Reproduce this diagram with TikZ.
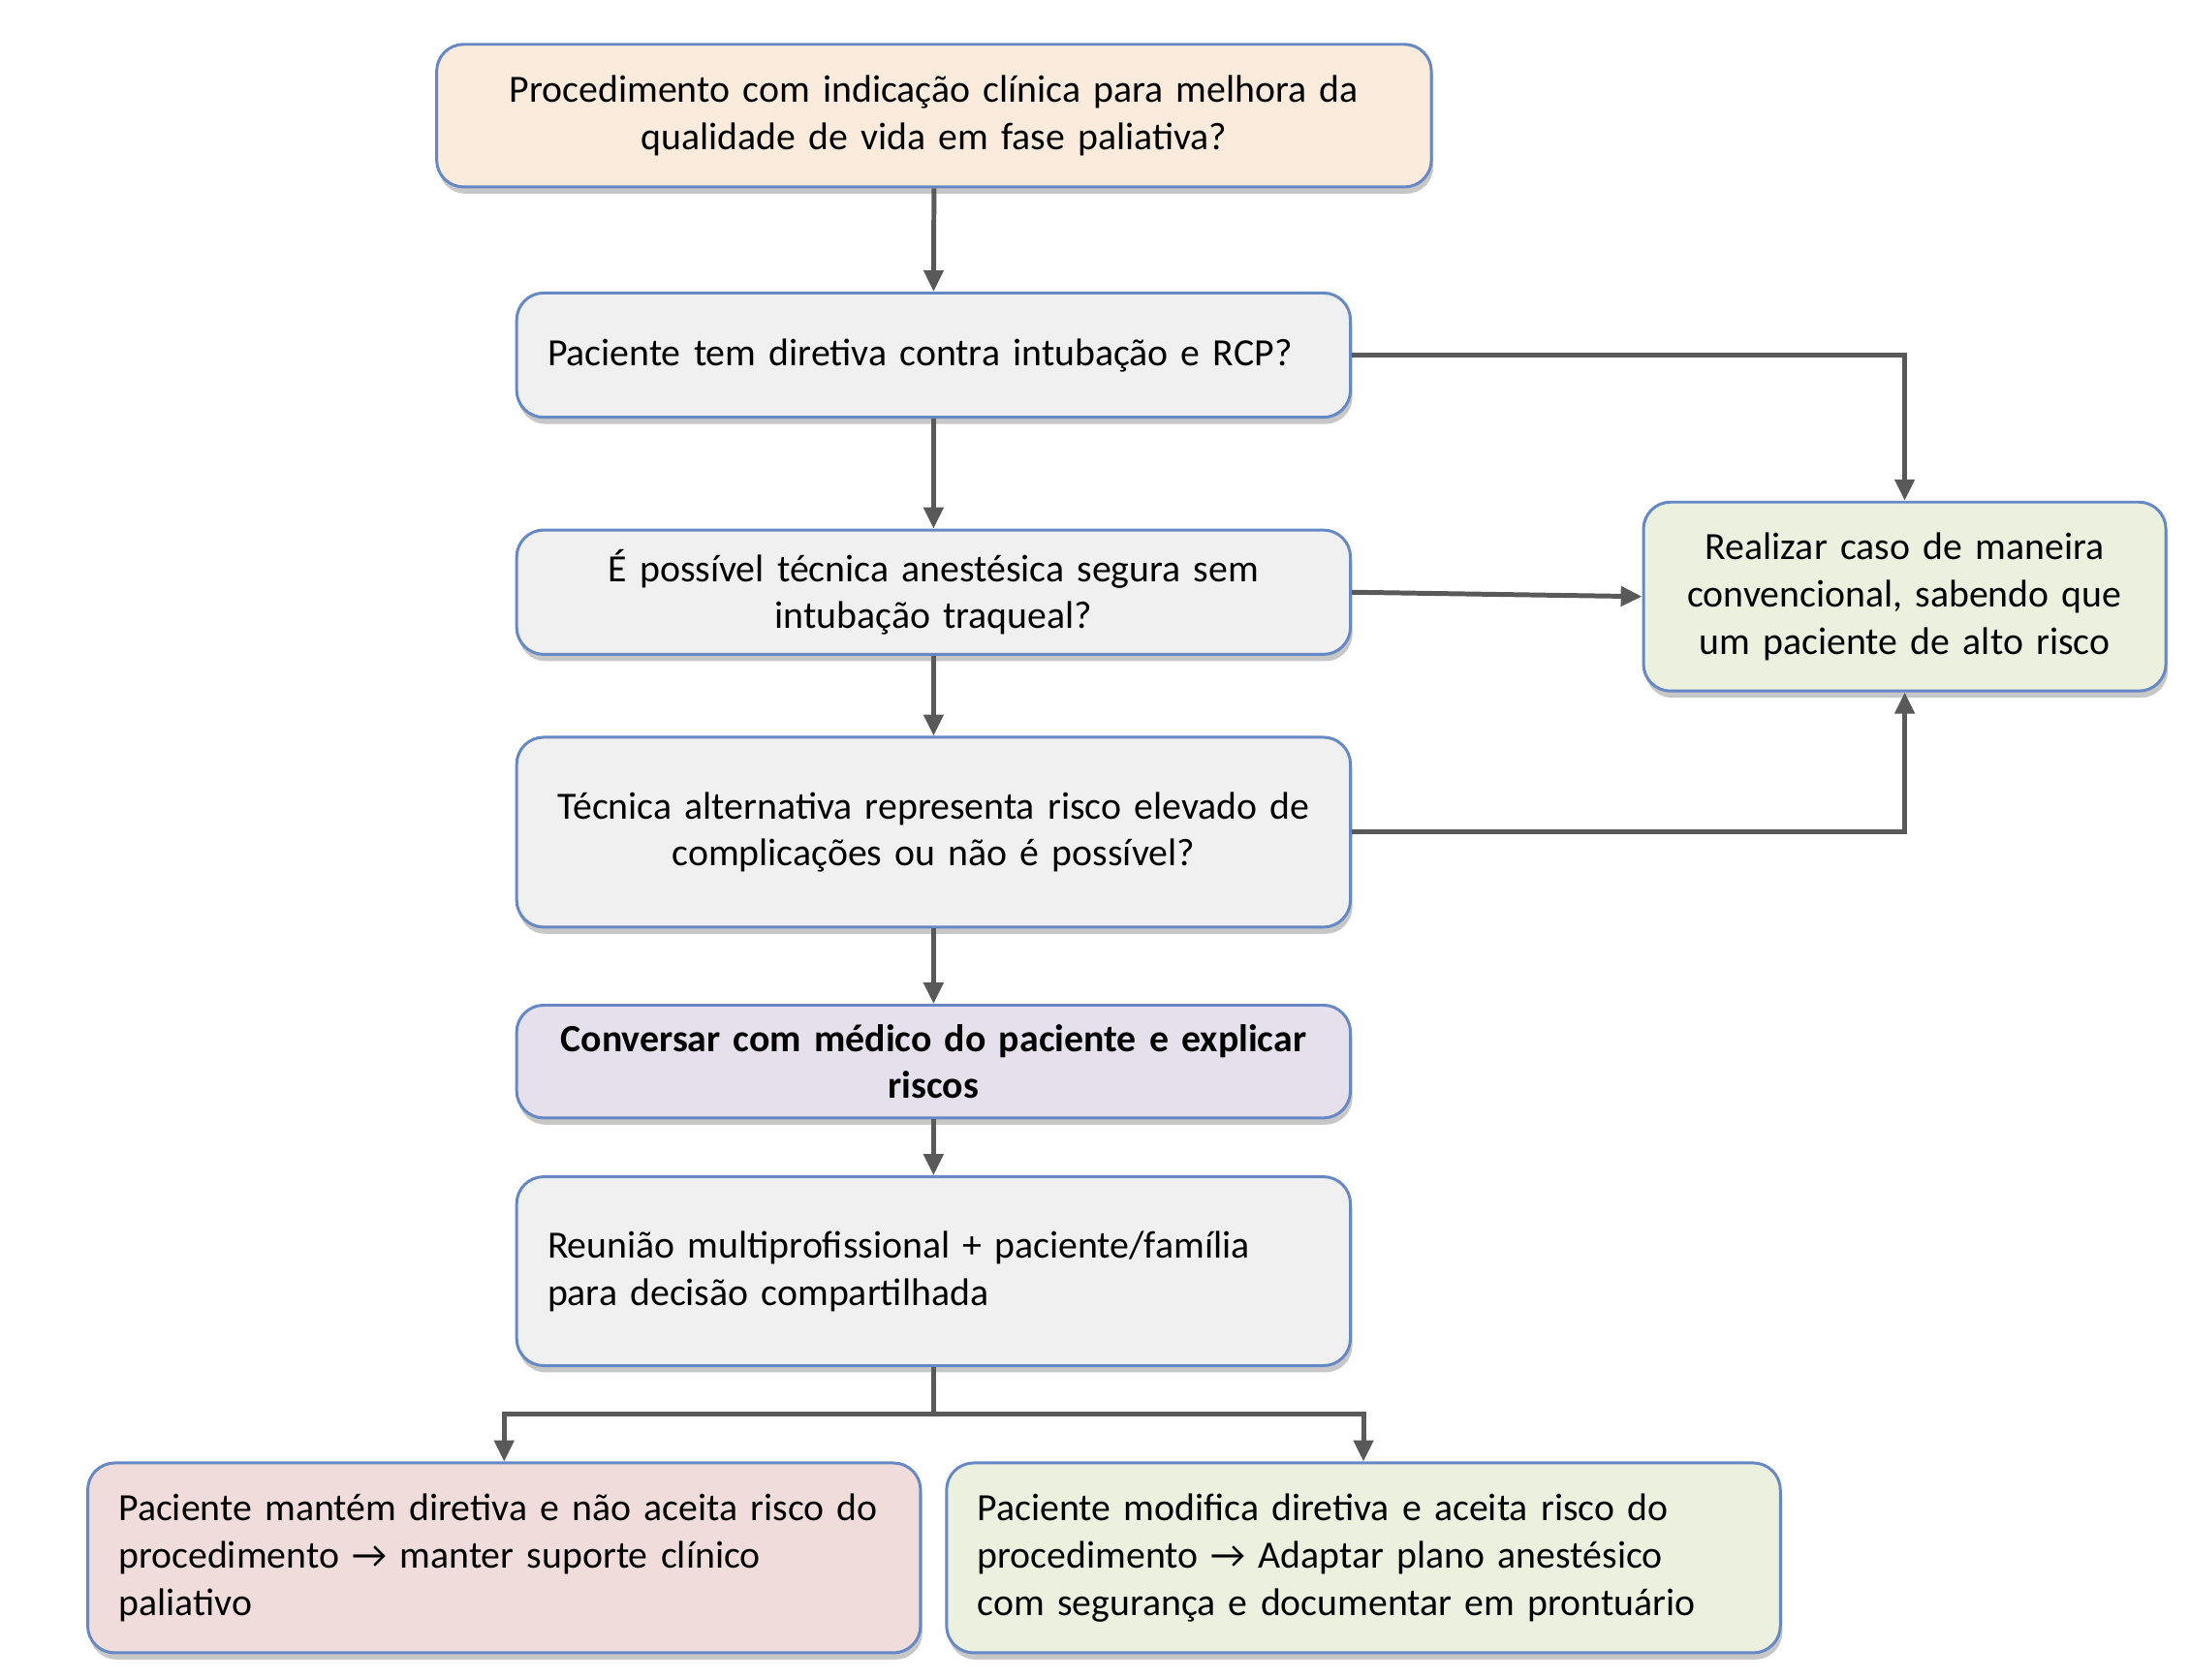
\documentclass[tikz,border=0pt]{standalone}
\usepackage{fontspec}
\setmainfont{Carlito}
\usetikzlibrary{arrows.meta,shadows}
\definecolor{cpeach}{HTML}{FBEBDC}
\definecolor{cgray}{HTML}{F0F0F0}
\definecolor{cpurple}{HTML}{E6E0EC}
\definecolor{cpink}{HTML}{F0DCDB}
\definecolor{cgreen}{HTML}{EBF0DF}
\definecolor{cborder}{HTML}{6688C4}
\definecolor{carrow}{HTML}{595959}
\tikzset{
  box/.style={draw=cborder, line width=1.5pt, rounded corners=14pt,
    drop shadow={shadow xshift=1pt, shadow yshift=-3.5pt, fill=black, opacity=0.22},
    inner xsep=16pt, inner ysep=0pt,
    font=\fontsize{20}{24.5}\selectfont},
  conn/.style={draw=carrow, line width=2.5pt, -{Triangle[length=11pt,width=10pt]}},
  plain/.style={draw=carrow, line width=2.5pt}
}
\begin{document}
\begin{tikzpicture}[x=0.5pt,y=-0.5pt]
\useasboundingbox (0,0) rectangle (2272,1743);
\fill[white] (0,0) rectangle (2272,1743);
\node[box, fill=cpeach, minimum width=516pt, minimum height=74pt, text width=484pt, align=center] (b1) at (969,120)
  {Procedimento com indicação clínica para melhora da\\qualidade de vida em fase paliativa?};
\node[box, fill=cgray, minimum width=432.5pt, minimum height=64.5pt, text width=400.5pt, align=left] (b2) at (968.5,368.5)
  {Paciente tem diretiva contra intubação e RCP?};
\node[box, fill=cgray, minimum width=432.5pt, minimum height=64.5pt, text width=400.5pt, align=center] (b3) at (968.5,614.5)
  {É possível técnica anestésica segura sem\\intubação traqueal?};
\node[box, fill=cgray, minimum width=432.5pt, minimum height=98.5pt, text width=400.5pt, align=center] (b4) at (968.5,863.5)
  {Técnica alternativa representa risco elevado de\\complicações ou não é possível?};
\node[box, fill=cpurple, minimum width=432.5pt, minimum height=58.5pt, text width=400.5pt, align=center] (b5) at (968.5,1101.5)
  {\bfseries Conversar com médico do paciente e explicar\\\bfseries riscos};
\node[box, fill=cgray, minimum width=432.5pt, minimum height=98pt, text width=400.5pt, align=left] (b6) at (968.5,1319)
  {Reunião multiprofissional + paciente/família\\para decisão compartilhada};
\node[box, fill=cpink, minimum width=432pt, minimum height=98.5pt, text width=400pt, align=left] (b7) at (523,1616.5)
  {Paciente mantém diretiva e não aceita risco do\\procedimento → manter suporte clínico\\paliativo};
\node[box, fill=cgreen, minimum width=432.5pt, minimum height=98.5pt, text width=400.5pt, align=left] (b8) at (1414.5,1616.5)
  {Paciente modifica diretiva e aceita risco do\\procedimento → Adaptar plano anestésico\\com segurança e documentar em prontuário};
\node[box, fill=cgreen, minimum width=271pt, minimum height=98pt, text width=250pt, inner xsep=10pt, align=center] (r) at (1976,619)
  {Realizar caso de maneira\\convencional, sabendo que\\um paciente de alto risco};
\coordinate (split) at (968.5,1467);
\draw[conn] (b1.south) -- (b2.north);
\draw[conn] (b2.south) -- (b3.north);
\draw[conn] (b3.south) -- (b4.north);
\draw[conn] (b4.south) -- (b5.north);
\draw[conn] (b5.south) -- (b6.north);
\draw[conn] (b2.east) -| (r.north);
\draw[conn] (b3.east) -- (r.west);
\draw[conn] (b4.east) -| (r.south);
\draw[plain] (b6.south) -- (split);
\draw[conn] (split) -| (b7.north);
\draw[conn] (split) -| (b8.north);
\end{tikzpicture}
\end{document}
